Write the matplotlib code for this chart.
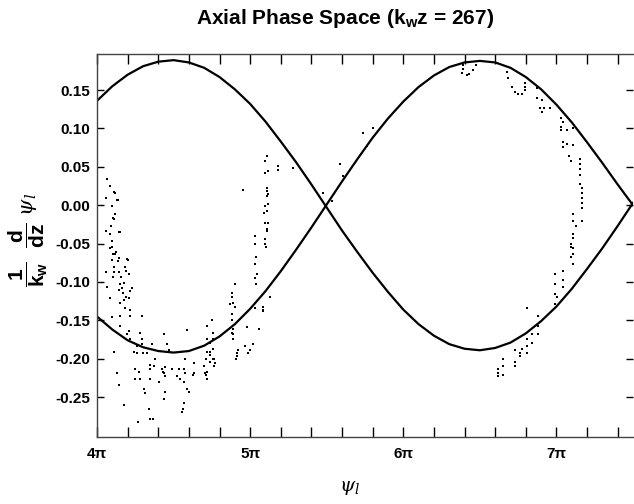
import numpy as np
import matplotlib
matplotlib.use("Agg")
import matplotlib.pyplot as plt
from matplotlib.ticker import MultipleLocator, FixedLocator

plt.rcParams['font.family'] = ['Liberation Sans', 'DejaVu Sans']
plt.rcParams['mathtext.fontset'] = 'custom'
plt.rcParams['mathtext.rm'] = 'Liberation Sans:bold'
plt.rcParams['mathtext.bf'] = 'Liberation Sans:bold'
plt.rcParams['mathtext.it'] = 'DejaVu Serif:italic'

# separatrix, psi in units of pi, sampled every 0.1 pi from 4 pi to 7.5 pi
sep_psi = [4.0 + 0.1 * k for k in range(36)]
sep_upper = [0.136, 0.155, 0.170, 0.181, 0.187, 0.189, 0.186, 0.179, 0.167, 0.151,
             0.132, 0.109, 0.083, 0.056, 0.027, -0.003, -0.033, -0.061, -0.088, -0.113,
             -0.136, -0.155, -0.170, -0.181, -0.187, -0.189, -0.186, -0.179, -0.167, -0.151,
             -0.132, -0.109, -0.083, -0.056, -0.027, 0.003]
sep_lower = [-0.145, -0.162, -0.176, -0.185, -0.190, -0.192, -0.190, -0.183, -0.171, -0.155,
             -0.135, -0.112, -0.086, -0.058, -0.029, 0.001, 0.031, 0.060, 0.088, 0.113,
             0.135, 0.154, 0.169, 0.180, 0.186, 0.188, 0.186, 0.179, 0.167, 0.151,
             0.131, 0.108, 0.082, 0.055, 0.027, 0.000]

# electron phase (units of pi) and normalized axial velocity
elec_psi = [
    4.065, 4.059, 4.117, 4.130, 4.098, 4.104, 4.059, 4.085, 4.143, 4.098, 4.104, 4.117, 4.196,
    4.085, 4.111, 4.137, 4.117, 4.111, 4.091, 4.150, 4.098, 4.085, 4.124, 4.143, 4.202, 4.098,
    4.137, 4.111, 4.183, 4.059, 4.111, 4.143, 4.189, 4.209, 4.104, 4.157, 4.176, 4.150, 4.065,
    4.163, 4.228, 4.143, 4.170, 4.215, 4.189, 4.176, 4.085, 4.209,
    4.150, 4.183, 4.215, 4.098, 4.150, 4.215, 4.294, 4.150, 4.209, 4.196, 4.215, 4.280, 4.294,
    4.241, 4.261, 4.294, 4.241, 4.261, 4.300, 4.111, 4.359, 4.437, 4.587, 4.457, 4.470, 4.326,
    4.378, 4.346, 4.372, 4.424, 4.437, 4.444, 4.431, 4.444, 4.489, 4.535, 4.522, 4.541, 4.568,
    4.574, 4.574, 4.568, 4.600, 4.633, 4.633, 4.698, 4.704, 4.718, 4.737, 4.763, 4.770, 4.248,
    4.274, 4.248, 4.280, 4.346, 4.346, 4.404, 4.444, 4.437, 4.307, 4.313, 4.143, 4.339, 4.346,
    4.568, 4.561, 4.554, 4.176, 4.130, 4.267, 4.365, 4.587, 4.626,
    4.900, 5.037, 4.881, 4.881, 4.868, 4.887, 4.900, 5.128, 5.083, 5.083, 5.083, 5.031, 4.881,
    4.881, 4.750, 4.718, 4.887, 4.881, 4.887, 4.887, 4.757, 4.757, 4.718, 4.737, 4.978, 5.057,
    5.018, 4.920, 4.913, 4.913, 4.907, 4.998, 4.985, 4.965, 4.718, 4.757, 4.737, 4.737, 4.757,
    4.763, 4.711, 4.718, 4.711, 4.718,
    5.109, 5.096, 5.096, 5.115, 5.109, 5.109, 5.115, 5.109, 5.096, 5.115, 5.089, 5.109, 5.096,
    5.115, 5.109, 5.109, 5.096, 5.096, 5.102, 5.031, 5.031, 5.037, 5.031, 5.044, 5.031, 5.181,
    5.181, 5.279, 4.952,
    5.605, 5.585, 5.735, 5.800, 5.761, 5.474, 5.533,
    6.387, 6.387, 6.381, 6.414, 6.427, 6.453, 6.472, 6.675, 6.681, 6.707, 6.727, 6.746, 6.772,
    6.792, 6.792, 6.792, 6.870, 6.870, 6.909, 6.890, 6.903, 6.922, 6.955, 7.033, 7.040, 7.027,
    7.033, 7.072, 7.105, 7.040, 7.046, 7.072, 7.105, 7.085, 7.098, 7.151, 7.151, 7.151, 7.151,
    7.164, 7.164, 7.170, 7.164, 7.164, 7.105, 7.111, 7.131, 7.164, 7.105, 7.111, 7.098, 7.105,
    7.105, 7.151,
    6.616, 6.616, 6.616, 6.648, 6.648, 6.648, 6.727, 6.727, 6.727, 6.759, 6.759, 6.772, 6.805,
    6.805, 6.805, 6.838, 6.838, 6.877, 6.877, 6.877, 6.805, 6.988, 6.988, 6.988, 6.988, 7.001,
    7.040, 7.040, 7.040, 7.098, 7.098, 7.105,
]
elec_vel = [
    0.034, 0.009, 0.016, 0.007, -0.001, -0.017, -0.034, -0.037, -0.035, -0.054, -0.063, -0.064, -0.070,
    0.025, 0.017, 0.007, -0.012, -0.018, -0.027, -0.035, -0.046, -0.056, -0.061, -0.069, -0.072, -0.072,
    -0.073, -0.081, -0.081, -0.087, -0.087, -0.087, -0.086, -0.090, -0.094, -0.093, -0.102, -0.103, -0.106,
    -0.108, -0.108, -0.110, -0.115, -0.112, -0.119, -0.123, -0.121, -0.121,
    -0.127, -0.134, -0.136, -0.146, -0.145, -0.145, -0.145, -0.158, -0.164, -0.168, -0.174, -0.167, -0.174,
    -0.180, -0.184, -0.181, -0.191, -0.193, -0.193, -0.191, -0.181, -0.168, -0.162, -0.181, -0.188, -0.193,
    -0.201, -0.208, -0.210, -0.214, -0.219, -0.223, -0.217, -0.211, -0.213, -0.214, -0.223, -0.226, -0.213,
    -0.219, -0.201, -0.230, -0.243, -0.206, -0.219, -0.210, -0.219, -0.158, -0.191, -0.200, -0.206, -0.213,
    -0.217, -0.227, -0.226, -0.214, -0.227, -0.230, -0.243, -0.252, -0.240, -0.245, -0.234, -0.265, -0.278,
    -0.258, -0.265, -0.269, -0.260, -0.219, -0.282, -0.278, -0.239, -0.221,
    -0.103, -0.103, -0.115, -0.119, -0.129, -0.128, -0.132, -0.120, -0.132, -0.136, -0.138, -0.134, -0.142,
    -0.149, -0.150, -0.158, -0.161, -0.167, -0.168, -0.174, -0.167, -0.174, -0.174, -0.180, -0.159, -0.161,
    -0.181, -0.188, -0.193, -0.197, -0.201, -0.189, -0.193, -0.184, -0.191, -0.187, -0.195, -0.204, -0.200,
    -0.210, -0.201, -0.217, -0.221, -0.227,
    0.064, 0.057, 0.042, 0.044, 0.022, 0.018, 0.014, 0.012, -0.001, 0.001, -0.010, -0.008, -0.023,
    -0.023, -0.031, -0.034, -0.044, -0.051, -0.055, -0.040, -0.051, -0.067, -0.077, -0.090, -0.095, 0.051,
    0.046, 0.048, 0.020,
    0.038, 0.054, 0.094, 0.101, 0.077, 0.016, 0.005,
    0.183, 0.178, 0.172, 0.170, 0.171, 0.176, 0.183, 0.174, 0.166, 0.154, 0.148, 0.145, 0.145,
    0.159, 0.154, 0.150, 0.153, 0.140, 0.137, 0.127, 0.121, 0.127, 0.127, 0.114, 0.108, 0.102,
    0.098, 0.098, 0.101, 0.082, 0.076, 0.080, 0.078, 0.064, 0.057, 0.060, 0.054, 0.047, 0.040,
    0.022, 0.016, 0.009, 0.003, -0.004, -0.012, -0.021, -0.027, -0.021, -0.037, -0.043, -0.051, -0.056,
    -0.064, 0.027,
    -0.213, -0.218, -0.223, -0.201, -0.210, -0.221, -0.188, -0.204, -0.210, -0.193, -0.197, -0.187, -0.174,
    -0.184, -0.193, -0.168, -0.180, -0.145, -0.158, -0.168, -0.134, -0.090, -0.103, -0.116, -0.129, -0.119,
    -0.086, -0.097, -0.106, -0.054, -0.067, -0.077,
]

x_tick_pos = [4, 5, 6, 7]
x_tick_labels = ['4π', '5π', '6π', '7π']
y_tick_pos = [0.15, 0.10, 0.05, 0.00, -0.05, -0.10, -0.15, -0.20, -0.25]
y_tick_labels = ['0.15', '0.10', '0.05', '0.00', '-0.05', '-0.10', '-0.15', '-0.20', '-0.25']

fig = plt.figure(figsize=(6.34, 5.04), dpi=100)
ax = fig.add_axes([97 / 634, 1 - 437 / 504, 536 / 634, (437 - 54) / 504])

ax.plot(sep_psi, sep_upper, color='black', linewidth=1.6)
ax.plot(sep_psi, sep_lower, color='black', linewidth=1.6)
ax.scatter(elec_psi, elec_vel, s=2.6, marker='s', color='black', linewidths=0)

ax.set_xlim(4, 7.5)
ax.set_ylim(-0.302, 0.197)

ax.xaxis.set_major_locator(FixedLocator(x_tick_pos))
ax.set_xticklabels(x_tick_labels, fontsize=11, fontweight='bold')
ax.xaxis.set_minor_locator(MultipleLocator(0.2))
ax.yaxis.set_major_locator(FixedLocator(y_tick_pos))
ax.set_yticklabels(y_tick_labels, fontsize=11, fontweight='bold')

ax.tick_params(axis='x', which='both', direction='in', length=7, width=1,
               top=True, bottom=True, pad=7)
ax.tick_params(axis='y', which='both', direction='in', length=5, width=1,
               left=True, right=True, pad=5)
for side in ['left', 'bottom', 'top']:
    ax.spines[side].set_linewidth(1.0)
    ax.spines[side].set_color('#444444')
ax.spines['right'].set_visible(False)

fig.text(345 / 634, 1 - 18 / 504, r'Axial Phase Space (k$_{\mathrm{w}}$z = 267)',
         ha='center', va='center', fontsize=15, fontweight='bold')
fig.text(350 / 634, 1 - 488 / 504, r'$\psi_l$', ha='center', va='center', fontsize=14)
fig.text(28 / 634, 1 - 240 / 504,
         r'$\dfrac{\mathrm{1}}{\mathrm{k_w}}\ \ \dfrac{\mathrm{d}}{\mathrm{dz}}\ \psi_l$',
         ha='center', va='center', rotation=90, fontsize=15)

fig.savefig('out.png', dpi=100, facecolor='white')
